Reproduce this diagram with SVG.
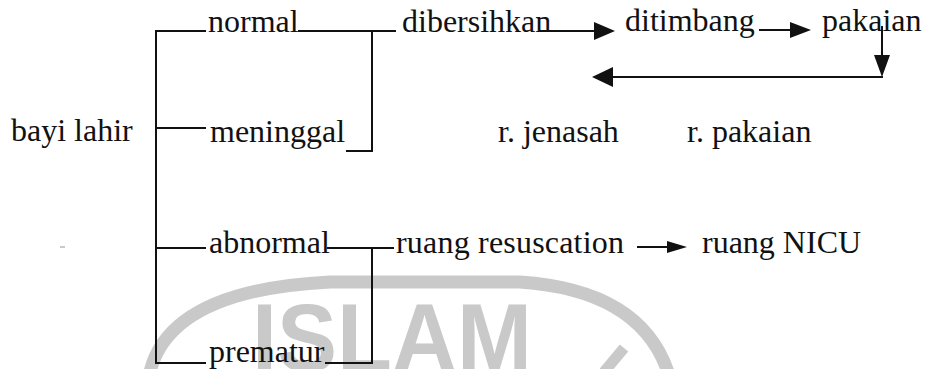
<svg xmlns="http://www.w3.org/2000/svg" width="927" height="369" viewBox="0 0 927 369">
  <style>
    .t { font-family: "Liberation Serif", "Times New Roman", serif; font-size: 32px; fill: #111; }
    .ln { stroke: #111; stroke-width: 2; fill: none; stroke-linecap: square; }
    .hd { fill: #111; stroke: none; }
    .wm { fill: #c9c9c9; }
    .wms { stroke: #c9c9c9; fill: none; }
  </style>

  <rect width="927" height="369" fill="#fff"/>

  <!-- background seal -->
  <g id="seal">
    <path class="wms" stroke-width="13" d="M150 372 Q 170 290 330 282 L 520 282 Q 640 290 668 372"/>
    <line class="wms" stroke-width="11" x1="604" y1="372" x2="624" y2="348"/>
    <text class="wm" x="252" y="371" font-family="Liberation Sans, Arial, sans-serif" font-weight="bold" font-size="96" textLength="280" lengthAdjust="spacingAndGlyphs">ISLAM</text>
    <rect class="wm" x="60" y="246" width="5" height="2"/>
  </g>

  <!-- connectors -->
  <g id="connectors">
    <!-- split from "bayi lahir" -->
    <path class="ln" d="M156 31 V363 M156 31 H205 M156 128 H205 M156 248 H205 M156 363 H205"/>
    <!-- normal / meninggal join -->
    <path class="ln" d="M299 31 H372 V151 H347 M372 31 H395"/>
    <!-- abnormal / prematur join -->
    <path class="ln" d="M328 248 H372 V363 H326 M372 248 H393"/>
    <!-- dibersihkan -> ditimbang -->
    <line class="ln" x1="540" y1="31" x2="598" y2="31"/>
    <polygon class="hd" points="615,31 594,22 594,40"/>
    <!-- ditimbang -> pakaian -->
    <line class="ln" x1="760" y1="30" x2="794" y2="30"/>
    <polygon class="hd" points="811,30 790,22 790,38"/>
    <!-- pakaian down and back -->
    <line class="ln" x1="882" y1="27" x2="882" y2="60"/>
    <polygon class="hd" points="882,77 874,55 890,55"/>
    <line class="ln" x1="882" y1="77" x2="608" y2="77"/>
    <polygon class="hd" points="592,77 613,67 613,87"/>
    <!-- ruang resuscation -> ruang NICU -->
    <line class="ln" x1="638" y1="247" x2="670" y2="247"/>
    <polygon class="hd" points="687,247 667,241 667,253"/>
  </g>

  <g id="bayi-lahir"><text class="t" x="11" y="141">bayi lahir</text></g>
  <g id="normal"><text class="t" x="208" y="32">normal</text></g>
  <g id="meninggal"><text class="t" x="210" y="142">meninggal</text></g>
  <g id="abnormal"><text class="t" x="209" y="253">abnormal</text></g>
  <g id="prematur"><text class="t" x="209" y="362">prematur</text></g>
  <g id="dibersihkan"><text class="t" x="402" y="32">dibersihkan</text></g>
  <g id="ditimbang"><text class="t" x="625" y="31">ditimbang</text></g>
  <g id="pakaian"><text class="t" x="822" y="31">pakaian</text></g>
  <g id="r-jenasah"><text class="t" x="498" y="142">r. jenasah</text></g>
  <g id="r-pakaian"><text class="t" x="687" y="142">r. pakaian</text></g>
  <g id="ruang-resuscation"><text class="t" x="396" y="253" textLength="228" lengthAdjust="spacing">ruang resuscation</text></g>
  <g id="ruang-nicu"><text class="t" x="702" y="253">ruang NICU</text></g>
</svg>
